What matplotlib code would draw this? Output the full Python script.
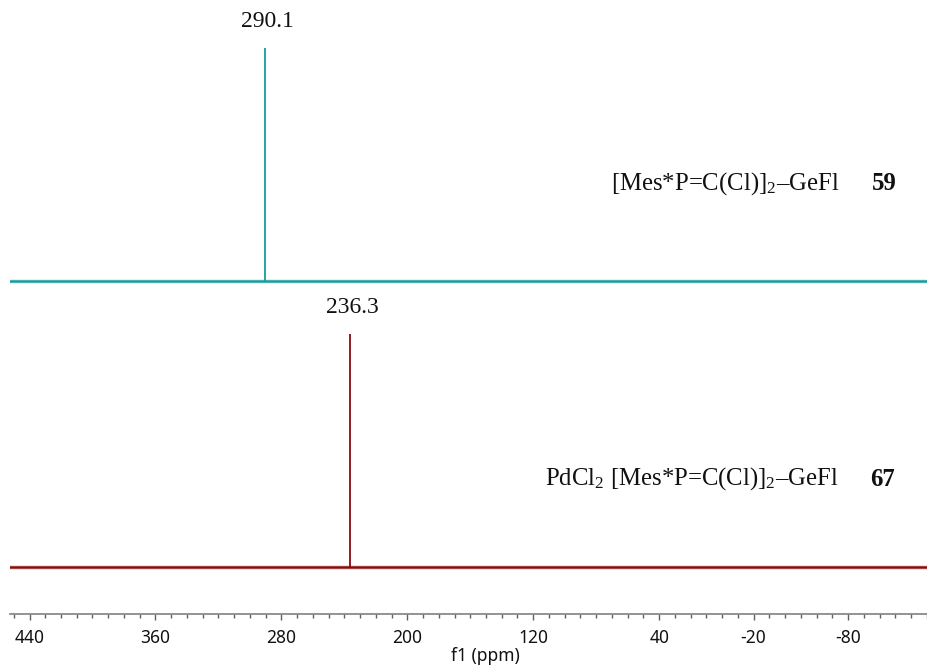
import matplotlib
matplotlib.use("Agg")
import matplotlib.pyplot as plt
from matplotlib.ticker import MultipleLocator, FixedLocator, FixedFormatter

# ---- data ----
peak_ppm = [290.1, 236.3]                 # top (59), bottom (67)
peak_height = [1.0, 1.0]
peak_labels = ["290.1", "236.3"]
series_names = [r"[Mes*P=C(Cl)]$_2$–GeFl", r"PdCl$_2$ [Mes*P=C(Cl)]$_2$–GeFl"]
series_ids = ["59", "67"]
colors = ["#1a9b9b", "#8b0a0a"]
tick_values = [440, 360, 280, 200, 120, 40, -20, -80]
tick_labels = ["440", "360", "280", "200", "120", "40", "-20", "-80"]

# ---- layout ----
W, H = 928, 666
plt.rcParams['mathtext.fontset'] = 'custom'
plt.rcParams['mathtext.rm'] = 'Liberation Serif'
plt.rcParams['mathtext.it'] = 'Liberation Serif:italic'
plt.rcParams['mathtext.bf'] = 'Liberation Serif:bold'

fig = plt.figure(figsize=(W / 100, H / 100), dpi=100)
ax = fig.add_axes([10 / W, (H - 614) / H, (W - 10) / W, 614 / H])
ax.set_xlim(452.4, -130.8)
# y units: 1.0 = peak height (233 px)
offsets = [1.227, 0.0]
ax.set_ylim(-0.2017, 2.431)

for i in range(2):
    off = offsets[i]
    c = colors[i]
    ax.axhline(off, color=c, lw=2.4, alpha=0.75, zorder=2)
    ax.axhline(off, color=c, lw=0.9, zorder=3)
    ax.vlines(peak_ppm[i], off, off + peak_height[i], color=c, lw=1.3, zorder=3)
    ax.annotate(peak_labels[i], (peak_ppm[i], off + peak_height[i]),
                xytext=(1.5, 11), textcoords="offset points", ha="center", va="bottom",
                fontsize=17, family="Liberation Serif", color="#111111")

# series labels
fs = 17.8
fig.text(839 / W, 1 - 184 / H, series_names[0], ha="right", va="center",
         fontsize=fs, family="Liberation Serif", color="#111111")
fig.text(884 / W, 1 - 184 / H, series_ids[0], ha="center", va="center",
         fontsize=fs, family="Liberation Serif", weight="bold", color="#111111")
fig.text(839 / W, 1 - 479 / H, series_names[1], ha="right", va="center",
         fontsize=fs, family="Liberation Serif", color="#111111")
fig.text(883 / W, 1 - 479 / H, series_ids[1], ha="center", va="center",
         fontsize=fs, family="Liberation Serif", weight="bold", color="#111111")

# axis styling
for s in ["top", "left", "right"]:
    ax.spines[s].set_visible(False)
ax.spines["bottom"].set_color("#808080")
ax.spines["bottom"].set_linewidth(1.2)
ax.set_yticks([])
ax.xaxis.set_major_locator(FixedLocator(tick_values))
ax.xaxis.set_major_formatter(FixedFormatter(tick_labels))
ax.xaxis.set_minor_locator(MultipleLocator(10))
ax.tick_params(axis="x", which="major", length=4, width=1, color="#606060",
               labelsize=12.5, pad=7, labelcolor="#111111")
ax.tick_params(axis="x", which="minor", length=3, width=1, color="#606060")
for lab in ax.get_xticklabels():
    lab.set_family("Noto Sans")

fig.text(485 / W, 1 - 656 / H, "f1 (ppm)", ha="center", va="center",
         fontsize=12.5, family="Noto Sans", color="#111111")

fig.savefig("out.png", dpi=100)
